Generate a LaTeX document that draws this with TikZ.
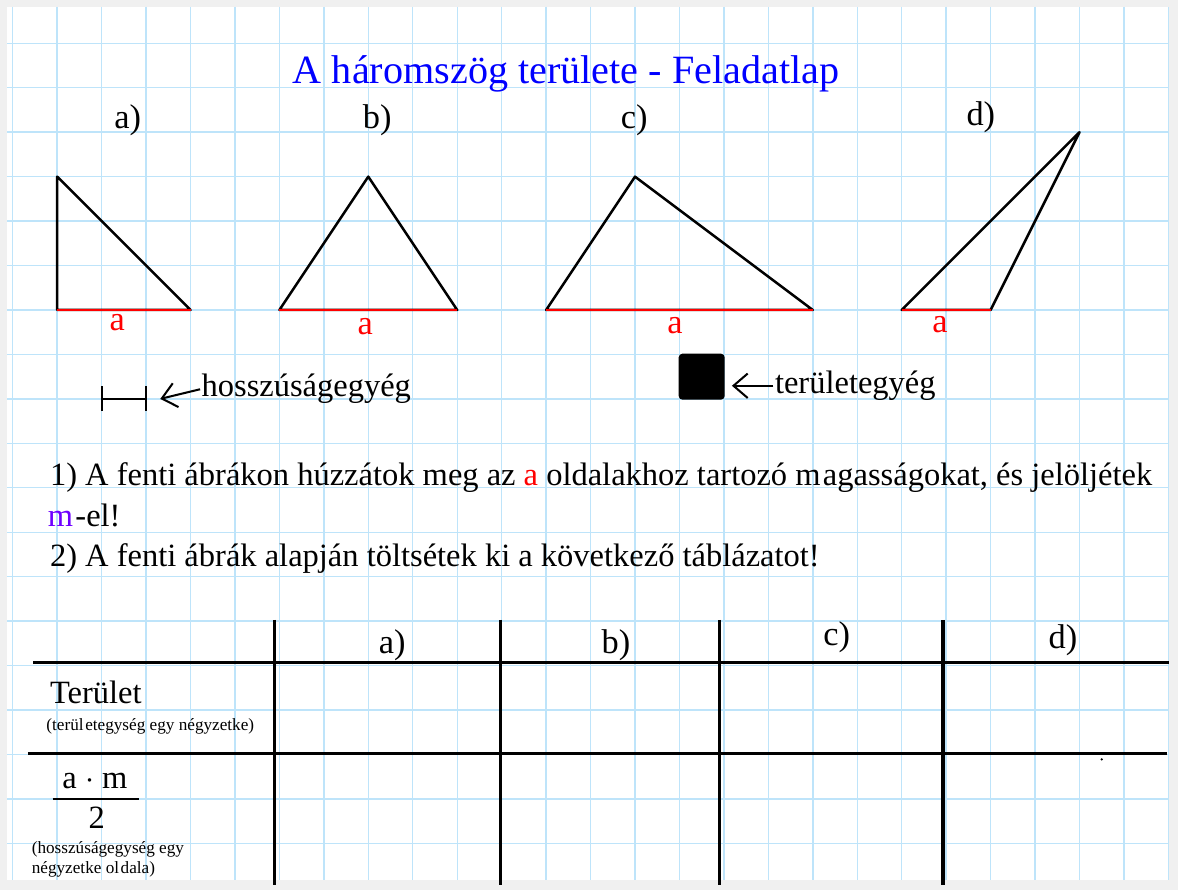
\documentclass[tikz,border=0pt]{standalone}
\usepackage{fontspec}
\setmainfont{Liberation Serif}
\usetikzlibrary{arrows.meta}
\definecolor{gridblue}{RGB}{190,228,250}
\definecolor{paper}{RGB}{240,240,240}
\definecolor{mviolet}{RGB}{110,0,255}
\definecolor{titleblue}{RGB}{0,0,255}

\begin{document}
\begin{tikzpicture}[x=1cm, y=1cm,
    every node/.style={inner sep=0pt, outer sep=0pt},
    tri/.style={line width=1.6pt, line join=round},
    base/.style={line width=1.8pt, red},
    lbl/.style={font=\fontsize{22}{26}\selectfont, anchor=base},
    reda/.style={font=\fontsize{22}{26}\selectfont, red, anchor=base},
    body/.style={font=\fontsize{20.8}{24}\selectfont, anchor=base west},
    small/.style={font=\fontsize{11}{13}\selectfont, anchor=base west},
    tab/.style={line width=2pt},
    pointer/.style={line width=1.3pt, -{Straight Barb[length=3.2mm, width=5.5mm]}}]
    % Papír és négyzetháló
    \fill[paper] (-0.286,0.974) rectangle (26.216,-19.05);
    \useasboundingbox (-0.286,0.974) rectangle (26.216,-19.05);
    \fill[white] (-0.128,0.817) rectangle (26.01,-18.83);
    \foreach \i in {0,...,26}
        \draw[gridblue, line width=0.9pt] (\i,0.817) -- (\i,-18.83);
    \foreach \j in {0,...,18}
        \draw[gridblue, line width=0.9pt] (-0.128,-\j) -- (26.01,-\j);

    % Cím
    \node[font=\fontsize{25.7}{30}\selectfont, titleblue, anchor=base] (title) at (12.45,-0.9) {A háromszög területe - Feladatlap};

    % Háromszögek
    \node[lbl] (la) at (2.59,-1.91) {a)};
    \node[lbl] (lb) at (8.2,-1.91) {b)};
    \node[lbl] (lc) at (13.98,-1.91) {c)};
    \node[lbl] (ld) at (21.78,-1.84) {d)};

    \draw[tri] (1,-6) -- (1,-3) -- (4,-6) -- cycle;
    \draw[tri] (6,-6) -- (8,-3) -- (10,-6) -- cycle;
    \draw[tri] (12,-6) -- (14,-3) -- (18,-6) -- cycle;
    \draw[tri] (20,-6) -- (24,-2) -- (22,-6) -- cycle;
    \draw[base] (1,-6) -- (4,-6);
    \draw[base] (6,-6) -- (10,-6);
    \draw[base] (12,-6) -- (18,-6);
    \draw[base] (20,-6) -- (22,-6);

    \node[reda] (aa) at (2.35,-6.47) {a};
    \node[reda] (ab) at (7.93,-6.56) {a};
    \node[reda] (ac) at (14.9,-6.52) {a};
    \node[reda] (ad) at (20.86,-6.5) {a};

    % Egységek
    \draw[line width=1.3pt] (2,-7.72) -- (2,-8.28) (2,-8) -- (3,-8) (3,-7.72) -- (3,-8.28);
    \coordinate (lentip) at (3.32,-8);
    \node[body] (lentext) at (4.25,-7.95) {hosszúságegyég};
    \draw[pointer, shorten <=1pt] (lentext.west) -- (lentip);

    \node[fill=black, draw, line width=1pt, rounded corners=2pt, minimum size=1cm] (areaunit) at (15.5,-7.5) {};
    \node[body] (areatext) at (17.15,-7.88) {területegyég};
    \draw[pointer, shorten >=1.8mm, shorten <=1pt] (areatext.west) -- (areaunit.east |- areatext.west);

    % Feladatok
    \node[body] (task1) at (0.84,-9.94) {1) A fenti ábrákon húzzátok meg az \textcolor{red}{a} oldalakhoz tartozó m\hspace{1.5pt}agasságokat, és jelöljétek};
    \node[body] (task1b) at (0.79,-10.88) {\textcolor{mviolet}{m}\hspace{1.5pt}-el!};
    \node[body] (task2) at (0.84,-11.76) {2) A fenti ábrák alapján töltsétek ki a következő táblázatot!};

    % Táblázat
    \draw[tab] (0.46,-13.94) -- (26.01,-13.94);
    \draw[tab] (0.34,-15.97) -- (25.97,-15.97);
    \foreach \x in {5.88,10.97,15.9,20.93}
        \draw[tab] (\x,-12.97) -- (\x,-18.94);

    \node[lbl] (ha) at (8.54,-13.73) {a)};
    \node[lbl] (hb) at (13.57,-13.73) {b)};
    \node[lbl] (hc) at (18.54,-13.54) {c)};
    \node[lbl] (hd) at (23.63,-13.61) {d)};

    \node[body] (area) at (0.84,-14.86) {Terület};
    \node[small] (areanote) at (0.76,-15.45) {(terül\hspace{1pt}etegység egy négyzetke)};
    \node[body, anchor=base] (num) at (1.85,-16.76) {a $\cdot$ m};
    \node[body, anchor=base] (den) at (1.89,-17.66) {2};
    \draw[line width=1.3pt] (0.9,-17.01) -- (2.83,-17.01);
    \node[small] (lennote1) at (0.43,-18.22) {(hosszúságegység egy};
    \node[small] (lennote2) at (0.43,-18.67) {négyzetke ol\hspace{1pt}dala)};
    \fill (24.5,-16.11) circle (0.8pt);
\end{tikzpicture}
\end{document}
